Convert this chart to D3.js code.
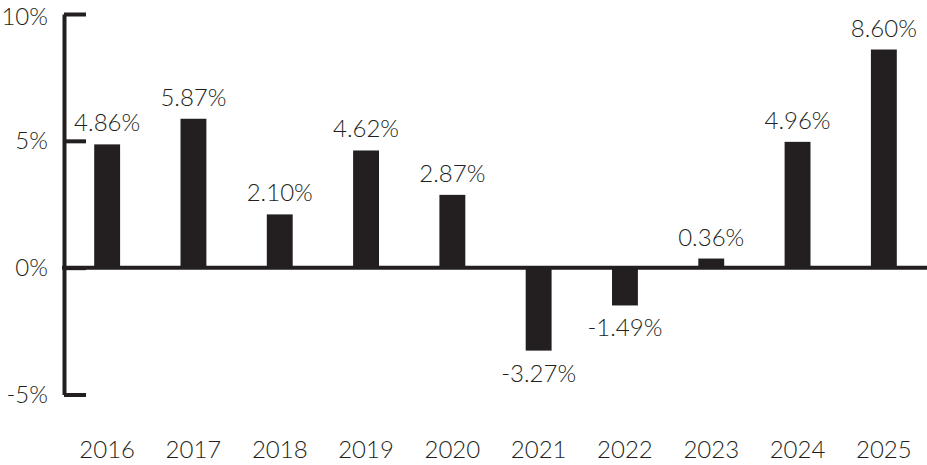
<!DOCTYPE html>
<html>
<head>
<meta charset="utf-8">
<script src="https://cdn.jsdelivr.net/npm/d3@7"></script>
<style>
  body { margin: 0; background: #fff; }
  text { font-family: Lato, "DejaVu Sans", sans-serif; font-weight: 300; fill: #231f20; }
</style>
</head>
<body>
<div id="chart"></div>
<script>
// data
var years = ["2016", "2017", "2018", "2019", "2020", "2021", "2022", "2023", "2024", "2025"];
var returns = [4.86, 5.87, 2.10, 4.62, 2.87, -3.27, -1.49, 0.36, 4.96, 8.60];
var yTicks = [-5, 0, 5, 10];

var W = 927, H = 465;
var margin = { top: 14, right: 0, bottom: 70, left: 64 };
var ink = "#231f20";

var svg = d3.select("#chart")
    .append("svg")
    .attr("width", W)
    .attr("height", H);

var x = d3.scaleBand()
    .domain(years)
    .range([margin.left, W - margin.right])
    .paddingInner(0.7)
    .paddingOuter(0.35);

var y = d3.scaleLinear()
    .domain([-5, 10])
    .range([H - margin.bottom - 0.5, margin.top]);

// bars
svg.selectAll("rect.bar")
    .data(returns)
    .enter()
    .append("rect")
    .attr("class", "bar")
    .attr("x", function (d, i) { return x(years[i]); })
    .attr("width", x.bandwidth())
    .attr("y", function (d) { return y(Math.max(d, 0)); })
    .attr("height", function (d) { return Math.abs(y(d) - y(0)); })
    .attr("fill", ink);

// value labels
svg.selectAll("text.val")
    .data(returns)
    .enter()
    .append("text")
    .attr("class", "val")
    .attr("x", function (d, i) { return x(years[i]) + x.bandwidth() / 2; })
    .attr("y", function (d) { return d >= 0 ? y(d) - 13 : y(d) + 31; })
    .attr("text-anchor", "middle")
    .style("font-size", "24px")
    .text(function (d) { return d.toFixed(2) + "%"; });

// y axis, ticks pointing into the plot
var yAxis = svg.append("g")
    .attr("transform", "translate(" + margin.left + ",0)")
    .call(d3.axisLeft(y)
        .tickValues(yTicks)
        .tickSizeInner(-22)
        .tickSizeOuter(0)
        .tickPadding(16)
        .tickFormat(function (d) { return d + "%"; }));

yAxis.select(".domain").attr("stroke", ink).attr("stroke-width", 4);
yAxis.selectAll(".tick line").attr("stroke", ink).attr("stroke-width", 4);
yAxis.selectAll(".tick text")
    .style("font-size", "24px")
    .style("font-family", "Lato, 'DejaVu Sans', sans-serif")
    .style("font-weight", 300)
    .attr("fill", ink);
// keep the top label inside the picture
yAxis.selectAll(".tick text")
    .filter(function (d) { return d === 10; })
    .attr("dy", "0.42em");

// zero line across the plot
svg.append("line")
    .attr("x1", margin.left - 2)
    .attr("x2", W)
    .attr("y1", y(0))
    .attr("y2", y(0))
    .attr("stroke", ink)
    .attr("stroke-width", 4);

// year labels
svg.selectAll("text.year")
    .data(years)
    .enter()
    .append("text")
    .attr("class", "year")
    .attr("x", function (d) { return x(d) + x.bandwidth() / 2; })
    .attr("y", 458)
    .attr("text-anchor", "middle")
    .style("font-size", "24px")
    .text(function (d) { return d; });
</script>
</body>
</html>
